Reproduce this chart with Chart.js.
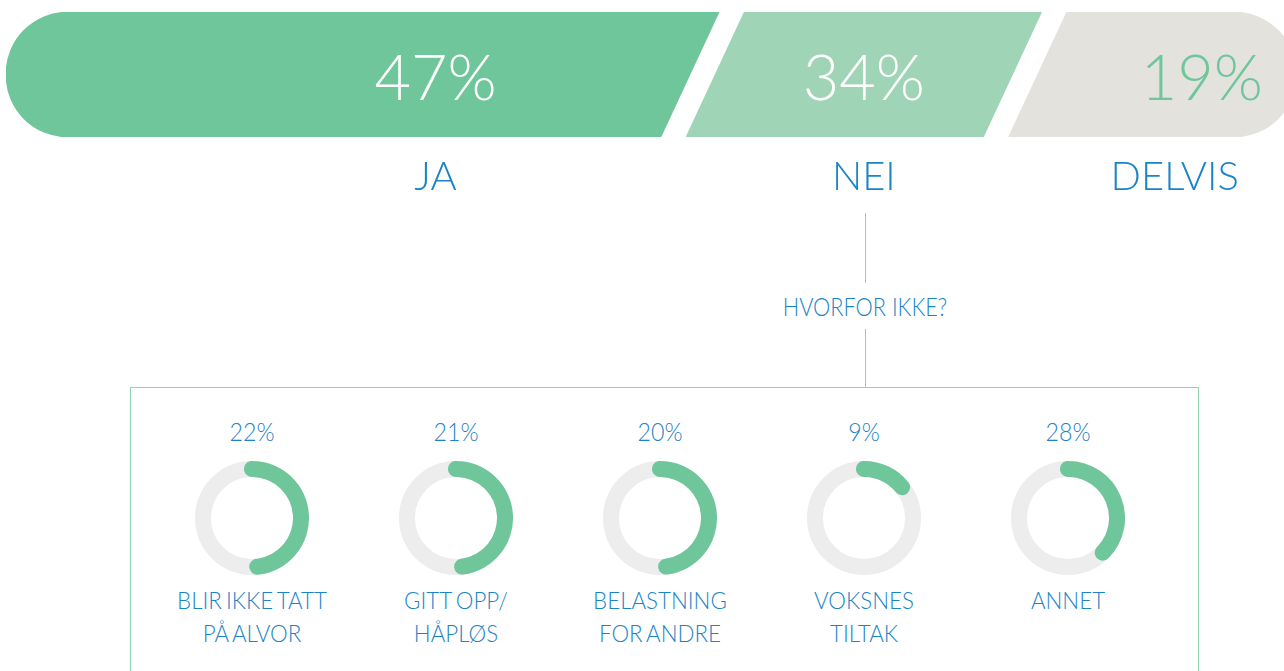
<!DOCTYPE html>
<html lang="no">
<head>
<meta charset="utf-8">
<title>Hvorfor ikke?</title>
<script src="https://cdn.jsdelivr.net/npm/chart.js@4.4.1/dist/chart.umd.min.js"></script>
<style>
  html, body { margin: 0; padding: 0; background: #fff; }
  body {
    width: 1284px; height: 671px; overflow: hidden; position: relative;
    font-family: Lato, "Open Sans", sans-serif; font-weight: 300; color: #1b84c6;
  }
  #topWrap { position: absolute; left: 0; top: 0; width: 1310px; height: 210px; }
  .stem { position: absolute; left: 865px; width: 1px; background: #8fd5b1; }
  #why {
    position: absolute; left: 765px; width: 200px; top: 294px;
    text-align: center; font-size: 25px; line-height: 25px; white-space: nowrap;
    transform: scaleX(0.87);
  }
  #box {
    position: absolute; left: 130px; top: 387px; width: 1067px; height: 400px;
    border: 1px solid #8fd5b1;
  }
  .pct, .lbl {
    position: absolute; width: 204px; text-align: center; white-space: nowrap;
  }
  .pct { top: 419px; font-size: 25px; line-height: 25px; transform: scaleX(0.93); }
  .lbl { top: 583px; font-size: 24px; line-height: 33px; transform: scaleX(0.93); word-spacing: -2px; }
  .ring { position: absolute; top: 461px; width: 114px; height: 114px; }
</style>
</head>
<body>
<div id="topWrap"><canvas id="share-chart"></canvas></div>

<div class="stem" style="top:213px;height:70px"></div>
<div id="why">HVORFOR IKKE?</div>
<div class="stem" style="top:329px;height:58px"></div>
<div id="box"></div>

<script>
// ======
// data
// ======
var answers = ['JA', 'NEI', 'DELVIS'];
var answerPct = [47, 34, 19];
// segment lengths as drawn in the bar (the bar is not to scale with the shares)
var barSpan = [54, 25, 21];

var reasons = [['BLIR IKKE TATT', 'PÅ ALVOR'], ['GITT OPP/', 'HÅPLØS'], ['BELASTNING', 'FOR ANDRE'], ['VOKSNES', 'TILTAK'], ['ANNET']];
var reasonPct = [22, 21, 20, 9, 28];
// share of each ring painted green, as drawn
var reasonArc = [53.5, 53.2, 53.2, 19.4, 42.7];

var colors = ['#6fc69a', '#9fd5b6', '#e3e2dd'];

// ======
// top bar: slanted cuts + labels
// ======
var barLabels = {
    id: 'barLabels',
    afterDatasetsDraw: function(chart, args, opts) {
        var ctx = chart.ctx;
        var xs = chart.scales.x;
        var n = chart.data.datasets.length;
        ctx.save();
        for (var i = 0; i < n - 1; i++) {
            var bar = chart.getDatasetMeta(i).data[0];
            var top = bar.y - bar.height / 2;
            var bottom = bar.y + bar.height / 2;
            var lean = bar.height * 0.464 / 2;
            // left segment reaches over the boundary at the top
            ctx.fillStyle = colors[i];
            ctx.beginPath();
            ctx.moveTo(bar.x - lean, top);
            ctx.lineTo(bar.x + lean, top);
            ctx.lineTo(bar.x - lean, bottom);
            ctx.closePath();
            ctx.fill();
            // right segment reaches back at the bottom
            ctx.fillStyle = colors[i + 1];
            ctx.beginPath();
            ctx.moveTo(bar.x + lean, top);
            ctx.lineTo(bar.x + lean, bottom);
            ctx.lineTo(bar.x - lean, bottom);
            ctx.closePath();
            ctx.fill();
            // white gap
            ctx.strokeStyle = '#fff';
            ctx.lineWidth = 22;
            ctx.beginPath();
            ctx.moveTo(bar.x + lean * 1.1, top - 6);
            ctx.lineTo(bar.x - lean * 1.1, bottom + 6);
            ctx.stroke();
        }
        ctx.textAlign = 'center';
        ctx.textBaseline = 'alphabetic';
        chart.data.datasets.forEach(function(ds, i) {
            ctx.font = '300 63px Lato, "Open Sans", sans-serif';
            ctx.fillStyle = i === 2 ? colors[0] : '#fff';
            ctx.fillText(ds.pct + '%', xs.getPixelForValue(opts.pctAt[i]), 100);
            ctx.font = '300 40px Lato, "Open Sans", sans-serif';
            ctx.fillStyle = '#1b84c6';
            ctx.fillText(ds.label, xs.getPixelForValue(opts.nameAt[i]), 190);
        });
        ctx.restore();
    }
};

var round = 62;
new Chart(document.getElementById('share-chart'), {
    type: 'bar',
    data: {
        labels: ['svar'],
        datasets: answers.map(function(name, i) {
            return {
                label: name,
                pct: answerPct[i],
                data: [barSpan[i]],
                backgroundColor: colors[i],
                borderWidth: 0,
                borderSkipped: false,
                borderRadius: {
                    topLeft: i === 0 ? round : 0, bottomLeft: i === 0 ? round : 0,
                    topRight: i === 2 ? round : 0, bottomRight: i === 2 ? round : 0
                },
                barPercentage: 1,
                categoryPercentage: 1
            };
        })
    },
    options: {
        indexAxis: 'y',
        responsive: true,
        maintainAspectRatio: false,
        animation: false,
        layout: { padding: { left: 6, right: 14, top: 12, bottom: 73 } },
        scales: {
            x: { stacked: true, min: 0, max: 100, display: false },
            y: { stacked: true, display: false }
        },
        plugins: {
            legend: { display: false },
            tooltip: { enabled: false },
            barLabels: { pctAt: [33.3, 66.5, 92.7], nameAt: [33.3, 66.5, 90.6] }
        }
    },
    plugins: [barLabels]
});

// ======
// rings
// ======
var track = {
    id: 'track',
    beforeDatasetsDraw: function(chart) {
        var arc = chart.getDatasetMeta(0).data[0];
        var ctx = chart.ctx;
        ctx.save();
        ctx.beginPath();
        ctx.arc(arc.x, arc.y, (arc.outerRadius + arc.innerRadius) / 2, 0, Math.PI * 2);
        ctx.lineWidth = arc.outerRadius - arc.innerRadius;
        ctx.strokeStyle = '#ededed';
        ctx.stroke();
        ctx.restore();
    }
};

reasons.forEach(function(lines, i) {
    var cx = 252 + i * 204;

    var pct = document.createElement('div');
    pct.className = 'pct';
    pct.style.left = (cx - 102) + 'px';
    pct.textContent = reasonPct[i] + '%';
    document.body.appendChild(pct);

    var lbl = document.createElement('div');
    lbl.className = 'lbl';
    lbl.style.left = (cx - 102) + 'px';
    lbl.innerHTML = lines.join('<br>');
    document.body.appendChild(lbl);

    var cv = document.createElement('canvas');
    cv.className = 'ring';
    cv.width = 114;
    cv.height = 114;
    cv.style.left = (cx - 57) + 'px';
    document.body.appendChild(cv);

    new Chart(cv, {
        type: 'doughnut',
        data: {
            labels: ['', ''],
            datasets: [{
                data: [reasonArc[i], 100 - reasonArc[i]],
                backgroundColor: ['#6fc69a', 'rgba(0,0,0,0)'],
                borderWidth: 0,
                borderRadius: function(c) { return c.dataIndex === 0 ? 8 : 0; }
            }]
        },
        options: {
            responsive: false,
            animation: false,
            cutout: '72%',
            rotation: -9.4,
            plugins: { legend: { display: false }, tooltip: { enabled: false } }
        },
        plugins: [track]
    });
});
</script>
</body>
</html>
